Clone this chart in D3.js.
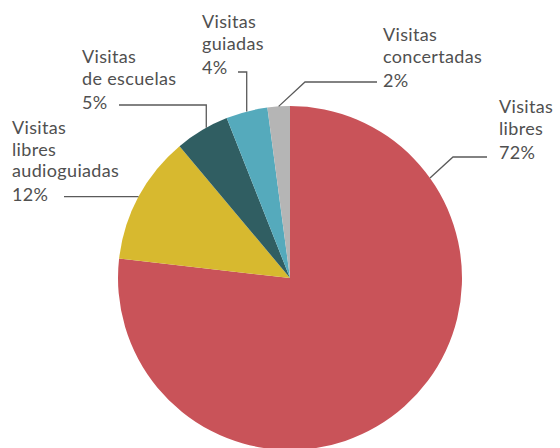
<!DOCTYPE html>
<html>
<head>
<meta charset="utf-8">
<script src="https://cdn.jsdelivr.net/npm/d3@7"></script>
<style>
  body { margin: 0; background: #fff; }
  svg { display: block; }
</style>
</head>
<body>
<svg id="chart"></svg>
<script>
// shares, printed labels kept as in the source
const categories = ['Visitas libres', 'Visitas libres audioguiadas', 'Visitas de escuelas', 'Visitas guiadas', 'Visitas concertadas']
const shares = [76.8, 12.1, 5.1, 3.9, 2.1]
const pctLabels = ['72%', '12%', '5%', '4%', '2%']
const labelLines = [
  ['Visitas', 'libres'],
  ['Visitas', 'libres', 'audioguiadas'],
  ['Visitas', 'de escuelas'],
  ['Visitas', 'guiadas'],
  ['Visitas', 'concertadas'],
]
const colors = ['#c95359', '#d7b92f', '#305e62', '#55aabc', '#b5b5b5']

const width = 560
const height = 448
const cx = 290
const cy = 278
const radius = 172

// label placement: text origin, where on the slice the leader starts, leader route
const layout = [
  { x: 499, y: 113, at: 0.197, route: (a) => [a, [453, 157], [487, 157]] },
  { x: 12, y: 134, at: 0.5, route: (a) => [a, [64, a[1]]] },
  { x: 82, y: 63, at: 0.59, route: (a) => [a, [a[0], 105], [119, 105]] },
  { x: 202, y: 28, at: 0.5, route: (a) => [a, [a[0], 72], [238, 72]] },
  { x: 383, y: 41, at: 0.5, route: (a) => [a, [305, 82], [377, 82]] },
]

const svg = d3.select('#chart').attr('width', width).attr('height', height)

const pie = d3.pie().sort(null).value((d) => d)
const arcs = pie(shares)
const arc = d3.arc().innerRadius(0).outerRadius(radius)

const body = svg.append('g').attr('transform', `translate(${cx},${cy})`)

body
  .selectAll('path')
  .data(arcs)
  .enter()
  .append('path')
  .attr('d', arc)
  .attr('fill', (d, i) => colors[i])

const lineHeight = 21.5
const pctGap = 24

arcs.forEach((d, i) => {
  const cfg = layout[i]
  const ang = d.startAngle + (d.endAngle - d.startAngle) * cfg.at
  const anchor = [cx + radius * Math.sin(ang), cy - radius * Math.cos(ang)]

  svg
    .append('path')
    .attr('d', d3.line()(cfg.route(anchor)))
    .attr('fill', 'none')
    .attr('stroke', '#5a5a5a')
    .attr('stroke-width', 1.3)

  const lines = labelLines[i]
  const text = svg
    .append('text')
    .attr('x', cfg.x)
    .attr('y', cfg.y)
    .style('font', '18px Lato, "Open Sans", sans-serif')
    .style('letter-spacing', '0.35px')
    .attr('fill', '#505050')

  lines.forEach((l, j) => {
    text.append('tspan').attr('x', cfg.x).attr('dy', j === 0 ? 0 : lineHeight).text(l)
  })
  text.append('tspan').attr('x', cfg.x).attr('dy', pctGap).text(pctLabels[i])
})
</script>
</body>
</html>
